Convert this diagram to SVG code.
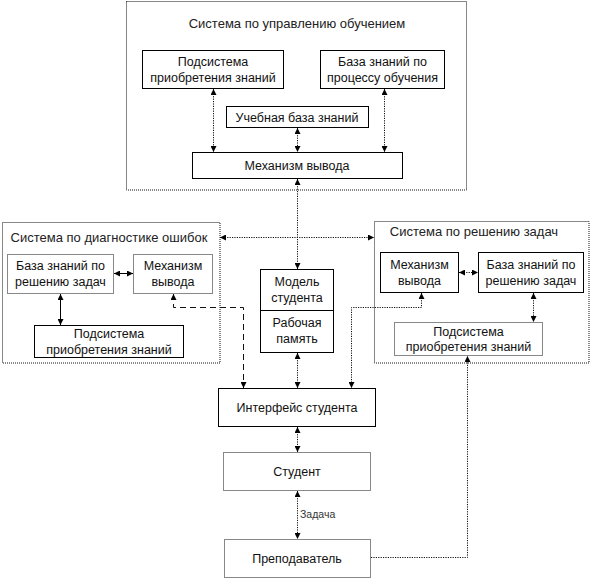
<svg xmlns="http://www.w3.org/2000/svg" width="592" height="579" viewBox="0 0 592 579">
<style>
  text { font-family: "Liberation Sans", Arial, sans-serif; font-size: 12.5px; fill: #111; text-anchor: middle; }
  .title { font-size: 13px; fill: #222; }
  .small { font-size: 10.5px; text-anchor: start; fill: #333; }
  .solid { fill: #fff; stroke: #000; stroke-width: 1; }
  .dot { fill: #fff; stroke: #111; stroke-width: 1; stroke-dasharray: 1 1; }
  .cont { fill: none; stroke: #111; stroke-width: 1; stroke-dasharray: 1 1; }
  .c { fill: none; stroke: #111; stroke-width: 1; stroke-dasharray: 1.2 1.2; }
  .cs { fill: none; stroke: #000; stroke-width: 1; }
  .cd { fill: none; stroke: #111; stroke-width: 1; stroke-dasharray: 6 4; }
</style>
<defs>
  <marker id="ah" viewBox="0 0 6 6" refX="6" refY="3" markerWidth="6" markerHeight="6" markerUnits="userSpaceOnUse" orient="auto-start-reverse">
    <path d="M0,0 L6,3 L0,6 z" fill="#000"/>
  </marker>
</defs>

<g id="sys-control">
  <rect class="cont" x="126.5" y="1.5" width="340" height="188.5"/>
  <text class="title" x="297" y="28">Система по управлению обучением</text>
</g>
<g id="ctl-acq">
  <rect class="solid" x="142.5" y="50.5" width="141" height="38"/>
  <text x="213" y="66">Подсистема</text>
  <text x="213" y="82">приобретения знаний</text>
</g>
<g id="ctl-kb">
  <rect class="solid" x="320.5" y="50.5" width="124" height="38"/>
  <text x="382.5" y="66">База знаний по</text>
  <text x="382.5" y="82">процессу обучения</text>
</g>
<g id="ctl-edu">
  <rect class="solid" x="226.5" y="106.5" width="142" height="21"/>
  <text x="297" y="121.5">Учебная база знаний</text>
</g>
<g id="ctl-inf">
  <rect class="solid" x="192.5" y="152.5" width="210" height="26"/>
  <text x="297" y="170">Механизм вывода</text>
</g>

<g id="sys-diag">
  <rect class="cont" x="2.5" y="222.5" width="217.5" height="140.5"/>
  <text class="title" x="109" y="242">Система по диагностике ошибок</text>
</g>
<g id="diag-kb">
  <rect class="dot" x="7.5" y="254.5" width="106" height="39"/>
  <text x="60.5" y="269.5">База знаний по</text>
  <text x="60.5" y="285.5">решению задач</text>
</g>
<g id="diag-inf">
  <rect class="dot" x="133.5" y="254.5" width="79" height="39"/>
  <text x="173" y="269.5">Механизм</text>
  <text x="173" y="285.5">вывода</text>
</g>
<g id="diag-acq">
  <rect class="solid" x="34.5" y="325.5" width="149" height="32"/>
  <text x="109" y="337.5">Подсистема</text>
  <text x="109" y="353.5">приобретения знаний</text>
</g>

<g id="sys-solve">
  <rect class="cont" x="374.5" y="221.5" width="214.5" height="141.5"/>
  <text class="title" x="474" y="236">Система по решению задач</text>
</g>
<g id="solve-inf">
  <rect class="solid" x="380.5" y="252.5" width="78" height="40"/>
  <text x="419.5" y="268.5">Механизм</text>
  <text x="419.5" y="284.5">вывода</text>
</g>
<g id="solve-kb">
  <rect class="solid" x="478.5" y="252.5" width="105" height="40"/>
  <text x="531" y="268.5">База знаний по</text>
  <text x="531" y="284.5">решению задач</text>
</g>
<g id="solve-acq">
  <rect class="dot" x="394.5" y="322.5" width="148" height="33"/>
  <text x="468.5" y="335.5">Подсистема</text>
  <text x="468.5" y="351">приобретения знаний</text>
</g>

<g id="student-model">
  <rect class="solid" x="260.5" y="269.5" width="73" height="83"/>
  <line class="cs" x1="260.5" y1="310.5" x2="333.5" y2="310.5"/>
  <text x="297" y="286">Модель</text>
  <text x="297" y="301.5">студента</text>
  <text x="297" y="327">Рабочая</text>
  <text x="297" y="342.5">память</text>
</g>
<g id="interface">
  <rect class="solid" x="218.5" y="388.5" width="157" height="38"/>
  <text x="297" y="411.5">Интерфейс студента</text>
</g>
<g id="student">
  <rect class="dot" x="223.5" y="452.5" width="147" height="38"/>
  <text x="297" y="475.5">Студент</text>
</g>
<g id="teacher">
  <rect class="dot" x="224.5" y="539.5" width="146" height="38"/>
  <text x="297" y="562.5">Преподаватель</text>
</g>

<g id="connectors">
  <line class="c" x1="213.5" y1="89" x2="213.5" y2="152" marker-start="url(#ah)" marker-end="url(#ah)"/>
  <line class="c" x1="297.5" y1="128" x2="297.5" y2="152" marker-start="url(#ah)" marker-end="url(#ah)"/>
  <line class="c" x1="384.5" y1="89" x2="384.5" y2="152" marker-start="url(#ah)" marker-end="url(#ah)"/>
  <line class="c" x1="297.5" y1="179" x2="297.5" y2="269" marker-start="url(#ah)" marker-end="url(#ah)"/>
  <line class="c" x1="220" y1="237.5" x2="374" y2="237.5" marker-start="url(#ah)" marker-end="url(#ah)"/>
  <line class="cs" x1="114" y1="273.5" x2="133" y2="273.5" marker-start="url(#ah)" marker-end="url(#ah)"/>
  <line class="cs" x1="60.5" y1="294" x2="60.5" y2="325" marker-start="url(#ah)" marker-end="url(#ah)"/>
  <line class="c" x1="459" y1="272.5" x2="478" y2="272.5" marker-start="url(#ah)" marker-end="url(#ah)"/>
  <line class="c" x1="533.5" y1="293" x2="533.5" y2="322" marker-start="url(#ah)" marker-end="url(#ah)"/>
  <path class="cd" d="M173.5,294 V307.5 H243.5 V388" marker-start="url(#ah)" marker-end="url(#ah)"/>
  <path class="c" d="M421.5,293 V307.5 H351.5 V388" marker-start="url(#ah)" marker-end="url(#ah)"/>
  <line class="c" x1="297.5" y1="353" x2="297.5" y2="388" marker-start="url(#ah)" marker-end="url(#ah)"/>
  <line class="c" x1="297.5" y1="427" x2="297.5" y2="452" marker-start="url(#ah)" marker-end="url(#ah)"/>
  <line class="c" x1="297.5" y1="491" x2="297.5" y2="539" marker-start="url(#ah)" marker-end="url(#ah)"/>
  <path class="c" d="M371,557.5 H467.5 V356" marker-end="url(#ah)"/>
  <text class="small" x="300" y="518">Задача</text>
</g>
</svg>
